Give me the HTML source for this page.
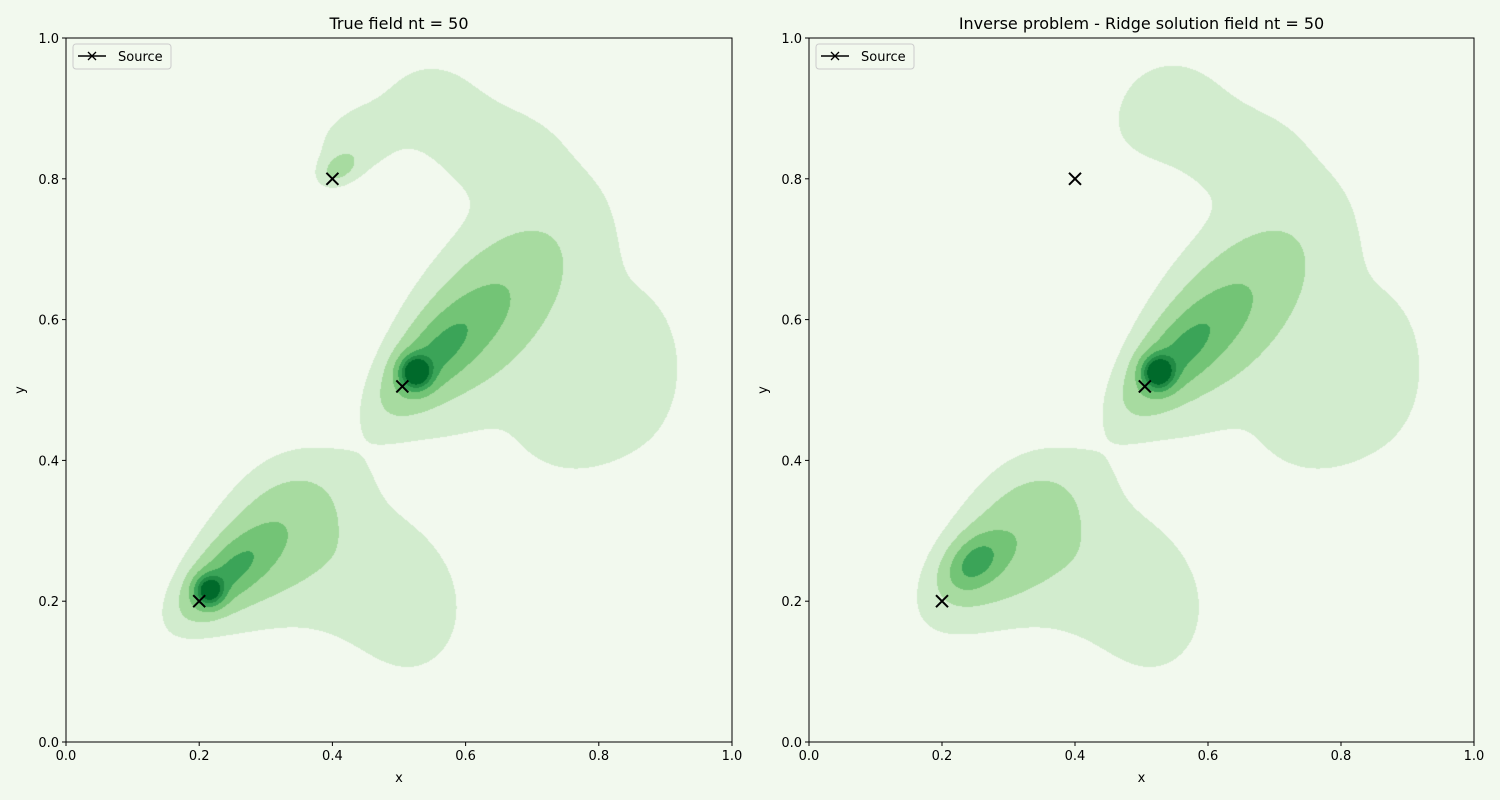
<!DOCTYPE html>
<html><head><meta charset="utf-8">
<style>
body{margin:0;background:#f2f9ee;width:1500px;height:800px;overflow:hidden;font-family:"DejaVu Sans","Liberation Sans",sans-serif}
svg{position:absolute;left:0;top:0}
canvas{position:absolute}
</style></head>
<body>
<canvas id="c1" width="666" height="704" style="left:66px;top:38px"></canvas>
<canvas id="c2" width="665" height="704" style="left:809px;top:38px"></canvas>
<svg id="svg" width="1500" height="800"></svg>
<script>
// Data
const sourceX = [0.2, 0.505, 0.4];
const sourceY = [0.2, 0.505, 0.8];
const trueStrength = [1.0, 1.0, 1.0];
const ridgeStrength = [1.0, 1.0, 1.0];
const xTicks = [0, 0.2, 0.4, 0.6, 0.8, 1.0];
const yTicks = [0, 0.2, 0.4, 0.6, 0.8, 1.0];
const levels = [0.047, 0.12, 0.26, 0.46, 0.66, 0.86];
const levelColors = ['#f2f9ee','#d2ecce','#a7dba0','#73c476','#3ba458','#218a44','#006a2b'];
const titles = ['True field nt = 50', 'Inverse problem - Ridge solution field nt = 50'];

// plume model components per source: [dx, dy, sigmaAlong, sigmaPerp, angleDeg, weight]
const plumeA = [[0.015,0.015,0.014,0.014,0,0.85],[0.045,0.04,0.05,0.022,40,0.36],[0.095,0.075,0.095,0.045,40,0.17],[0.16,0.05,0.09,0.08,0,0.07],[0.32,-0.02,0.07,0.08,0,0.065],[0.12,0.16,0.06,0.045,45,0.035],[0.25,0.06,0.05,0.05,0,0.025]];
const ridgeA = [[0.05,0.055,0.03,0.02,40,0.42],[0.095,0.075,0.095,0.045,40,0.17],[0.16,0.05,0.09,0.08,0,0.07],[0.32,-0.02,0.07,0.08,0,0.065],[0.12,0.16,0.06,0.045,45,0.035],[0.25,0.06,0.05,0.05,0,0.025]];
const plumeB = [[0.02,0.02,0.015,0.015,0,1.0],[0.05,0.045,0.06,0.026,45,0.36],[0.12,0.1,0.1,0.05,45,0.21],[0.18,0.13,0.2,0.11,65,0.06],[0.37,0.02,0.06,0.1,0,0.055],[0.26,-0.07,0.06,0.05,0,0.05],[0.04,0.41,0.06,0.05,0,0.06],[0.13,0.34,0.07,0.05,0,0.05]];
const plumeC = [[0.01,0.015,0.02,0.013,30,0.13],[0.03,0.05,0.05,0.04,30,0.07]];
const ridgeC = [[0.1,0.07,0.06,0.045,20,0.03]];

function comp(list, sx, sy, s, x, y){
  let v=0;
  for(const c of list){
    const a=c[4]*Math.PI/180, ca=Math.cos(a), sa=Math.sin(a);
    const dx=x-(sx+c[0]), dy=y-(sy+c[1]);
    const u=dx*ca+dy*sa, p=-dx*sa+dy*ca;
    v+=s*c[5]*Math.exp(-0.5*(u*u/(c[2]*c[2])+p*p/(c[3]*c[3])));
  }
  return v;
}
function field(x,y,str,ridge){
  let v=comp(ridge?ridgeA:plumeA,sourceX[0],sourceY[0],str[0],x,y);
  v+=comp(plumeB,sourceX[1],sourceY[1],str[1],x,y);
  v+=comp(ridge?ridgeC:plumeC,sourceX[2],sourceY[2],str[2],x,y);
  return v;
}
function hex(h){return [parseInt(h.substr(1,2),16),parseInt(h.substr(3,2),16),parseInt(h.substr(5,2),16)];}
const cols=levelColors.map(hex);
function paint(id,str,ridge){
  const cv=document.getElementById(id),ctx=cv.getContext('2d');
  const W=cv.width,H=cv.height,img=ctx.createImageData(W,H);
  for(let j=0;j<H;j++){const y=1-(j+0.5)/H;
    for(let i=0;i<W;i++){const x=(i+0.5)/W;
      const v=field(x,y,str,ridge);let k=0;
      while(k<levels.length&&v>=levels[k])k++;
      const c=cols[k],o=(j*W+i)*4;
      img.data[o]=c[0];img.data[o+1]=c[1];img.data[o+2]=c[2];img.data[o+3]=255;}}
  ctx.putImageData(img,0,0);
}
paint('c1',trueStrength,false);
paint('c2',ridgeStrength,true);

const svg=document.getElementById('svg');
const NS='http://www.w3.org/2000/svg';
function el(t,a,p){const e=document.createElementNS(NS,t);for(const k in a)e.setAttribute(k,a[k]);(p||svg).appendChild(e);return e;}
const panels=[{x0:66,x1:732},{x0:809,x1:1474}];
const Y0=742,Y1=38;
panels.forEach((pn,pi)=>{
  const g=el('g',{});
  
  
  const sx=v=>pn.x0+v*(pn.x1-pn.x0), sy=v=>Y0-v*(Y0-Y1);
  const fr=el('rect',{x:pn.x0,y:Y1,width:pn.x1-pn.x0,height:Y0-Y1,fill:'none',stroke:'#000','stroke-width':1},g);
  
  
  xTicks.forEach(t=>{const x=sx(t);
    el('line',{x1:x,x2:x,y1:Y0,y2:Y0+4,stroke:'#000'},g);
    const tx=el('text',{x:x,y:Y0+18,'font-size':13,'text-anchor':'middle'},g);tx.textContent=t.toFixed(1);
    
    });
  yTicks.forEach(t=>{const y=sy(t);
    el('line',{x1:pn.x0-4,x2:pn.x0,y1:y,y2:y,stroke:'#000'},g);
    const tx=el('text',{x:pn.x0-7,y:y+5,'font-size':13,'text-anchor':'end'},g);tx.textContent=t.toFixed(1);
    
    });
  const xl=el('text',{x:(pn.x0+pn.x1)/2,y:782,'font-size':13,'text-anchor':'middle'},g);xl.textContent='x';
  
  
  const yl=el('text',{x:0,y:0,'font-size':13,'text-anchor':'middle',transform:`translate(${pn.x0-42},390) rotate(-90)`},g);yl.textContent='y';
  
  
  const ti=el('text',{x:(pn.x0+pn.x1)/2,y:29,'font-size':16,'text-anchor':'middle'},g);ti.textContent=titles[pi];
  
  
  sourceX.forEach((v,i)=>{const x=sx(v),y=sy(sourceY[i]);
    const m=el('path',{d:`M${x-6},${y-6}L${x+6},${y+6}M${x-6},${y+6}L${x+6},${y-6}`,stroke:'#000','stroke-width':2},g);
    
    });
  const lg=el('g',{},g);
  
  
  el('rect',{x:pn.x0+7,y:44,width:98,height:25,rx:3,fill:'#f2f9ee',stroke:'#ccc'},lg);
  el('line',{x1:pn.x0+12,x2:pn.x0+40,y1:56,y2:56,stroke:'#000','stroke-width':1.5},lg);
  el('path',{d:`M${pn.x0+22},${52}L${pn.x0+30},${60}M${pn.x0+22},${60}L${pn.x0+30},${52}`,stroke:'#000','stroke-width':1.3},lg);
  const lt=el('text',{x:pn.x0+52,y:61,'font-size':13},lg);lt.textContent='Source';
  
  
});
</script>
</body></html>
